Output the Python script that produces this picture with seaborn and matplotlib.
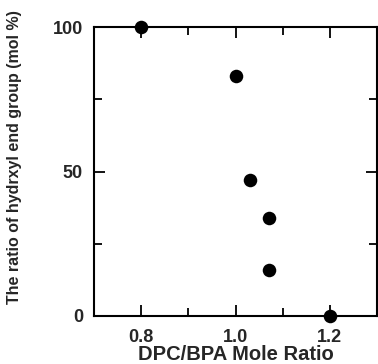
import matplotlib
matplotlib.use("Agg")
import matplotlib.pyplot as plt
import seaborn as sns
import pandas as pd
from matplotlib.ticker import MultipleLocator

ratio = [0.80, 1.00, 1.03, 1.07, 1.07, 1.20]
hydroxyl = [100, 83, 47, 34, 16, 0]

df = pd.DataFrame({"ratio": ratio, "hydroxyl": hydroxyl})

sns.set_style("ticks")
plt.rcParams["font.family"] = ["Liberation Sans", "DejaVu Sans"]

fig = plt.figure(figsize=(3.78, 3.64), dpi=100)
ax = fig.add_axes([94/378, 1 - 316/364, (377 - 94)/378, (316 - 27)/364])

sns.scatterplot(data=df, x="ratio", y="hydroxyl", ax=ax, color="black",
                s=95, edgecolor="black", linewidth=0, clip_on=False, zorder=5)

ax.set_xlim(0.7, 1.3)
ax.set_ylim(0, 100)
ax.xaxis.set_major_locator(MultipleLocator(0.2))
ax.xaxis.set_minor_locator(MultipleLocator(0.1))
ax.yaxis.set_major_locator(MultipleLocator(50))
ax.yaxis.set_minor_locator(MultipleLocator(25))
ax.set_xticks([0.8, 1.0, 1.2])
ax.set_xticklabels(["0.8", "1.0", "1.2"])

for s in ax.spines.values():
    s.set_linewidth(1.5)
    s.set_color("black")

ax.tick_params(which="both", direction="in", top=True, right=True,
               width=1.3, color="black")
ax.tick_params(which="major", length=8, labelsize=13)
ax.tick_params(axis="x", which="major", pad=9)
ax.tick_params(axis="y", which="major", pad=8)
ax.tick_params(which="minor", length=6)
for lab in ax.get_xticklabels() + ax.get_yticklabels():
    lab.set_fontweight("bold")

ax.set_xlabel("DPC/BPA Mole Ratio", fontsize=14.5, fontweight="bold", labelpad=0)
ax.set_ylabel("The ratio of hydrxyl end group (mol %)", fontsize=11.5,
              fontweight="bold", labelpad=8)
ax.yaxis.set_label_coords(-0.255, 0.55)

fig.savefig("out.png", dpi=100)
